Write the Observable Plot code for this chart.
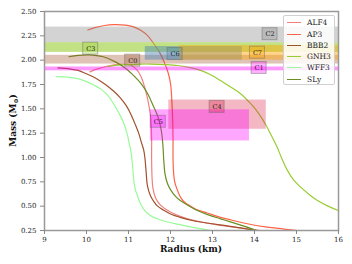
<!DOCTYPE html>
<html><head><meta charset="utf-8">
<script src="https://cdn.jsdelivr.net/npm/d3@7"></script>
<script src="https://cdn.jsdelivr.net/npm/@observablehq/plot@0.6"></script>
<style>
body{margin:0;background:#fff;}
#wrap{position:relative;width:352px;height:264px;font-family:"DejaVu Serif",serif;}
#legend{position:absolute;left:283px;top:15px;width:52px;height:70px;background:rgba(255,255,255,0.85);border:1px solid #d0d0d0;border-radius:2px;box-sizing:border-box;}
.row{position:absolute;left:0;height:11px;font-size:7.5px;color:#222;}
.row .sw{position:absolute;left:3px;top:5px;width:14px;height:0;border-top:1.3px solid;}
.row .lb{position:absolute;left:23px;top:0;line-height:11px;white-space:nowrap;}
</style></head>
<body><div id="wrap"></div>
<script>
// ---- data ----
const eosNames = ["ALF4","AP3","BBB2","GNH3","WFF3","SLy"];
const eosColors = ["#f08080","#ff6347","#a0522d","#9acd32","#98fb98","#6b8e23"];

const alf4 = [[10.08,1.88],[10.3,1.915],[10.57,1.945],[10.85,1.96],[11.05,1.95],[11.2,1.9],[11.3,1.83],[11.38,1.73],[11.44,1.63],[11.5,1.5],[11.53,1.4],[11.55,1.2],[11.55,1.0],[11.56,0.8],[11.58,0.69],[11.64,0.59],[11.75,0.515],[11.86,0.475],[12.02,0.435],[12.2,0.40],[12.45,0.365],[12.75,0.335],[13.05,0.312],[13.4,0.29],[13.8,0.268],[14.15,0.25]];
const ap3 = [[10.03,2.31],[10.2,2.335],[10.43,2.356],[10.65,2.365],[10.83,2.363],[11.0,2.355],[11.14,2.34],[11.3,2.305],[11.46,2.25],[11.6,2.17],[11.74,2.08],[11.85,1.98],[11.94,1.876],[12.0,1.76],[12.03,1.6],[12.05,1.4],[12.06,1.2],[12.06,1.0],[12.07,0.87],[12.1,0.75],[12.16,0.67],[12.24,0.59],[12.35,0.535],[12.48,0.5],[12.65,0.46],[12.87,0.43],[13.15,0.39],[13.45,0.358],[13.8,0.322],[14.3,0.285],[14.7,0.265],[15.1,0.245]];
const bbb2 = [[9.32,1.92],[9.6,1.91],[9.8,1.895],[10.0,1.86],[10.2,1.82],[10.45,1.75],[10.65,1.68],[10.81,1.61],[10.95,1.53],[11.05,1.45],[11.17,1.33],[11.25,1.24],[11.31,1.15],[11.36,1.08],[11.39,1.0],[11.42,0.85],[11.45,0.71],[11.52,0.61],[11.6,0.55],[11.68,0.505],[11.83,0.46],[12.0,0.42],[12.25,0.383],[12.55,0.35],[12.95,0.322],[13.35,0.298],[13.7,0.275],[14.05,0.25]];
const gnh3 = [[10.49,1.935],[10.75,1.95],[10.98,1.955],[11.3,1.96],[11.54,1.96],[11.85,1.955],[12.17,1.945],[12.5,1.92],[12.75,1.89],[13.0,1.84],[13.19,1.79],[13.45,1.72],[13.67,1.655],[13.85,1.58],[13.98,1.52],[14.15,1.42],[14.3,1.31],[14.42,1.21],[14.54,1.105],[14.65,0.99],[14.78,0.87],[14.93,0.77],[15.1,0.695],[15.3,0.62],[15.49,0.56],[15.75,0.5],[16.0,0.455],[16.2,0.43]];
const wff3 = [[9.28,1.83],[9.55,1.825],[9.79,1.81],[10.0,1.78],[10.19,1.74],[10.35,1.7],[10.5,1.64],[10.65,1.55],[10.78,1.45],[10.89,1.35],[10.97,1.24],[11.02,1.14],[11.07,1.03],[11.1,0.9],[11.13,0.75],[11.17,0.66],[11.21,0.61],[11.28,0.53],[11.36,0.47],[11.5,0.41],[11.68,0.37],[11.9,0.34],[12.16,0.315],[12.45,0.29],[12.64,0.274],[12.95,0.25]];
const sly = [[9.58,2.035],[9.8,2.05],[10.05,2.055],[10.4,2.035],[10.7,1.98],[10.95,1.91],[11.15,1.83],[11.3,1.76],[11.45,1.66],[11.58,1.54],[11.7,1.42],[11.78,1.28],[11.82,1.12],[11.84,0.97],[11.87,0.83],[11.93,0.73],[12.0,0.67],[12.12,0.6],[12.24,0.555],[12.45,0.5],[12.64,0.455],[12.9,0.41],[13.19,0.37],[13.43,0.338],[13.75,0.295],[14.05,0.25]];
const eosCurves = [alf4, ap3, bbb2, gnh3, wff3, sly];

// horizontal bands (full width)
const bandNames = ["C2","C3","C0","C1"];
const bandLo = [2.18, 2.08, 1.96, 1.89];
const bandHi = [2.34, 2.18, 2.05, 1.93];
const bandColors = ["#808080","#9acd32","#a0522d","#ff00ff"];
const bandOpacity = [0.35, 0.6, 0.35, 0.4];

// boxes
const boxNames = ["C6","C7","C4","C5"];
const boxR1 = [11.40, 12.21, 11.96, 11.52];
const boxR2 = [13.71, 16.0, 14.28, 13.88];
const boxM1 = [2.0, 2.0, 1.29, 1.17];
const boxM2 = [2.14, 2.15, 1.59, 1.49];
const boxColors = ["#4682b4","#ffa500","#dc143c","#ff00ff"];
const boxOpacity = [0.45, 0.45, 0.3, 0.35];

// labels
const labelNames = ["C0","C1","C2","C3","C4","C5","C6","C7"];
const labelR = [11.1, 14.11, 14.37, 10.1, 13.11, 11.71, 12.11, 14.07];
const labelM = [1.995, 1.92, 2.267, 2.118, 1.52, 1.367, 2.063, 2.077];
const labelColors = ["#a0522d","#ff00ff","#808080","#9acd32","#dc143c","#ff00ff","#4682b4","#ffa500"];

const xTicks = [9,10,11,12,13,14,15,16];
const yTicks = [0.25,0.5,0.75,1.0,1.25,1.5,1.75,2.0,2.25,2.5];

// ---- tables ----
const curvePts = eosNames.flatMap((n,i)=>eosCurves[i].map(([r,m])=>({eos:n,r,m})));
const bands = bandNames.map((n,i)=>({n,lo:bandLo[i],hi:bandHi[i],c:bandColors[i],o:bandOpacity[i]}));
const boxes = boxNames.map((n,i)=>({n,r1:boxR1[i],r2:boxR2[i],m1:boxM1[i],m2:boxM2[i],c:boxColors[i],o:boxOpacity[i]}));
const labels = labelNames.map((n,i)=>({n,r:labelR[i],m:labelM[i],c:labelColors[i]}));

const plot = Plot.plot({
  width: 352, height: 264,
  marginLeft: 44, marginRight: 14, marginTop: 11, marginBottom: 34,
  x: {domain:[9,16]},
  y: {domain:[0.25,2.5]},
  color: {domain: eosNames, range: eosColors},
  style: {fontFamily:'"DejaVu Serif", serif', background:"white", color:"#222"},
  marks: [
    Plot.line(curvePts, {x:"r", y:"m", z:"eos", stroke:"eos", strokeWidth:1.2, clip:true, curve:"catmull-rom"}),
    Plot.rect(bands, {y1:"lo", y2:"hi", fill:"c", fillOpacity:"o"}),
    Plot.rect(boxes, {x1:"r1", x2:"r2", y1:"m1", y2:"m2", fill:"c", fillOpacity:"o", clip:true}),
    Plot.rect(labels, {x1:"r", x2:"r", y1:"m", y2:"m", insetLeft:-7.5, insetRight:-7.5, insetTop:-6, insetBottom:-6, fill:"c", fillOpacity:0.3, stroke:"#666", strokeOpacity:0.45, strokeWidth:1}),
    Plot.text(labels, {x:"r", y:"m", text:"n", fontSize:6.5, fill:"#222"}),
    Plot.frame({stroke:"#999", strokeWidth:1.5}),
    Plot.axisX({ticks:xTicks, tickFormat:d=>String(d), tickSize:4, tickPadding:3, stroke:"#888", fill:"#222", fontSize:7, label:null}),
    Plot.axisY({ticks:yTicks, tickFormat:d3.format(".2f"), tickSize:4, tickPadding:4, stroke:"#888", fill:"#222", fontSize:7, label:null})
  ]
});

const wrap = document.getElementById("wrap");
wrap.appendChild(plot);
const svg = d3.select(plot);
svg.append("text").attr("x",191).attr("y",252).attr("text-anchor","middle")
  .attr("font-family",'"DejaVu Serif", serif').attr("font-weight","bold").attr("font-size",9).attr("fill","#111")
  .text("Radius (km)");
const yt = svg.append("text").attr("transform","translate(16,120.5) rotate(-90)").attr("text-anchor","middle")
  .attr("font-family",'"DejaVu Serif", serif').attr("font-weight","bold").attr("font-size",9).attr("fill","#111");
yt.append("tspan").text("Mass (M");
yt.append("tspan").attr("font-size",6).attr("dy",2).text("\u2299");
yt.append("tspan").attr("dy",-2).text(")");

// legend
const leg = document.createElement("div");
leg.id = "legend";
eosNames.forEach((n,i)=>{
  const row = document.createElement("div");
  row.className = "row";
  row.style.top = (1.2 + i*11.3) + "px";
  row.style.width = "50px";
  const sw = document.createElement("div"); sw.className="sw"; sw.style.borderTopColor = eosColors[i];
  const lb = document.createElement("div"); lb.className="lb"; lb.textContent = n;
  row.appendChild(sw); row.appendChild(lb);
  leg.appendChild(row);
});
wrap.appendChild(leg);
</script>
</body></html>
